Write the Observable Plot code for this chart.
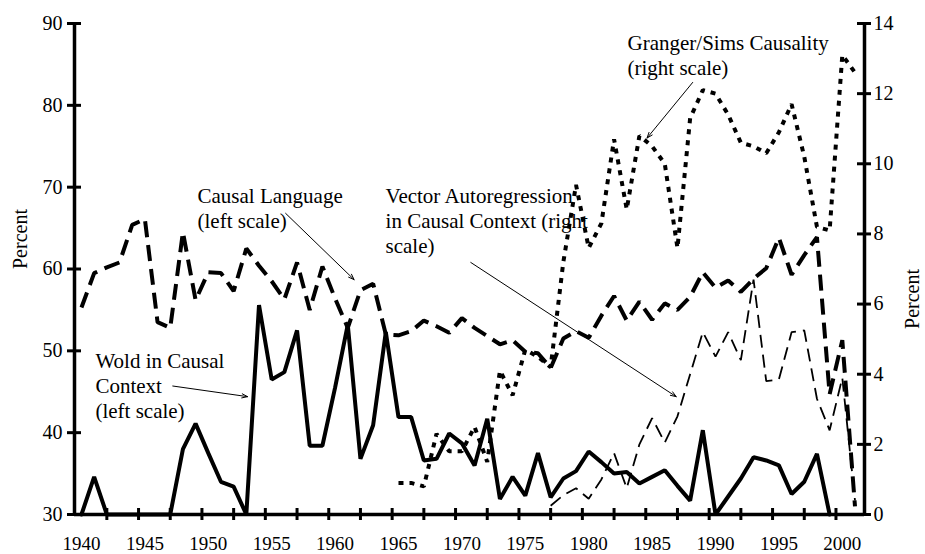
<!DOCTYPE html>
<html><head><meta charset="utf-8">
<script src="https://cdn.jsdelivr.net/npm/d3@7"></script>
<script src="https://cdn.jsdelivr.net/npm/@observablehq/plot@0.6"></script>
<style>body{margin:0;background:#fff} svg{display:block}</style>
</head><body><div id="chart"></div>
<script>
// ---- data (left scale, percent) ----
const causalYears = d3.range(1940, 2002);
const causalLanguage = [55.3,59.5,60.2,60.8,65.4,66.1,53.5,52.8,64.5,56.2,
  59.6,59.5,57.3,62.5,60.4,58.5,56.3,60.8,55.0,60.3,
  56.4,52.8,57.4,58.2,52.0,51.9,52.4,53.7,53.0,52.2,
  54.0,52.8,51.8,50.8,51.3,49.9,49.7,47.9,51.5,52.4,
  51.6,54.3,56.7,53.7,56.0,53.8,55.8,55.0,56.6,59.6,
  57.7,58.6,57.2,58.8,60.1,63.8,59.3,61.7,63.9,44.7,
  51.3,31.0];
const woldYears = d3.range(1940, 2000);
const wold = [30,34.6,30,30,30,30,30,30,38,41.1,
  37.5,34.0,33.4,30,55.6,46.5,47.4,52.5,38.4,38.4,
  45.5,53.2,36.8,40.9,52.3,41.9,41.9,36.6,36.8,39.9,
  38.7,36.0,41.7,31.9,34.6,32.3,37.5,32.1,34.4,35.3,
  37.7,36.4,35.0,35.2,33.8,34.6,35.4,33.5,31.7,40.3,
  30,32.2,34.4,37.0,36.6,36.0,32.5,34.0,37.4,30];
// ---- data (right scale, percent) ----
const grangerYears = d3.range(1965, 2002);
const granger = [0.9,0.9,0.8,2.3,1.8,1.8,2.5,1.5,4.1,3.4,
  4.7,4.5,4.2,7.2,9.4,7.6,8.3,10.7,8.7,10.8,
  10.5,10.0,7.6,11.3,12.1,12.0,11.4,10.6,10.5,10.3,
  10.9,11.7,10.2,8.2,8.1,13.1,12.6];
const varYears = d3.range(1977, 2002);
const varCausal = [0.25,0.55,0.75,0.45,1.0,1.75,0.75,2.0,2.75,2.05,
  2.8,4.0,5.2,4.5,5.2,4.4,6.7,3.8,3.85,5.2,
  5.25,3.3,2.4,3.9,0.4];

// ---- axes ----
const xLabels = d3.range(1940, 2001, 5);
const xTickMarks = d3.range(1942, 2001, 2.5);
const leftTicks = d3.range(30, 91, 10);
const rightTicks = d3.range(0, 15, 2);
const leftDomain = [30, 90];
const rightDomain = [0, 14];
const xDomain = [1939.45, 2001.75];

// ---- annotations ----
const labels = [
  {text: "Causal Language\n(left scale)", x: 1949.15, y: 70.2},
  {text: "Wold in Causal\nContext\n(left scale)", x: 1941.1, y: 50.1},
  {text: "Vector Autoregression\nin Causal Context (right\nscale)", x: 1963.98, y: 70.2},
  {text: "Granger/Sims Causality\n(right scale)", x: 1983.06, y: 88.9}
];
const arrows = [
  {x1: 1956.1, y1: 66.8, x2: 1961.5, y2: 58.7},
  {x1: 1947.2, y1: 45.7, x2: 1953.1, y2: 44.4},
  {x1: 1970.7, y1: 60.8, x2: 1986.9, y2: 44.4},
  {x1: 1988.2, y1: 82.8, x2: 1984.6, y2: 76.0}
];

const toLeft = v => leftDomain[0] + (v - rightDomain[0]) * (leftDomain[1] - leftDomain[0]) / (rightDomain[1] - rightDomain[0]);
const fromLeft = v => rightDomain[0] + (v - leftDomain[0]) * (rightDomain[1] - rightDomain[0]) / (leftDomain[1] - leftDomain[0]);

const causalData = causalYears.map((year, i) => ({year, v: causalLanguage[i]}));
const woldData = woldYears.map((year, i) => ({year, v: wold[i]}));
const grangerData = grangerYears.map((year, i) => ({year, v: toLeft(granger[i])}));
const varData = varYears.map((year, i) => ({year, v: toLeft(varCausal[i])}));

const chart = Plot.plot({
  width: 925,
  height: 554,
  marginLeft: 74,
  marginRight: 61,
  marginTop: 23,
  marginBottom: 40,
  x: {domain: xDomain},
  y: {domain: leftDomain},
  style: {fontFamily: "'Liberation Serif', serif", fontSize: "20px", color: "black", background: "white"},
  marks: [
    Plot.axisX({ticks: xLabels, tickSize: 0, tickPadding: 22, tickFormat: d => String(d), label: null, fontSize: 19}),
    Plot.axisY({anchor: "left", ticks: leftTicks, tickSize: 0, tickPadding: 12, label: null, tickFormat: d => String(d)}),
    Plot.axisY({anchor: "right", ticks: rightTicks.map(toLeft), tickSize: 0, tickPadding: 9, label: null,
      tickFormat: d => String(Math.round(fromLeft(d)))}),
    Plot.text(["Percent"], {frameAnchor: "left", dx: -54, rotate: -90, text: d => d, fontSize: 20}),
    Plot.text(["Percent"], {frameAnchor: "right", dx: 48, rotate: -90, text: d => d, fontSize: 20}),
    // lines
    Plot.line(varData, {x: "year", y: "v", stroke: "black", strokeWidth: 1.8, strokeDasharray: "13,7", strokeLinecap: "butt", strokeLinejoin: "miter"}),
    Plot.line(grangerData, {x: "year", y: "v", stroke: "black", strokeWidth: 4, strokeDasharray: "5,6", strokeLinecap: "butt", strokeLinejoin: "miter"}),
    Plot.line(causalData, {x: "year", y: "v", stroke: "black", strokeWidth: 4, strokeDasharray: "16,8", strokeLinecap: "butt", strokeLinejoin: "miter"}),
    Plot.line(woldData, {x: "year", y: "v", stroke: "black", strokeWidth: 4, strokeLinejoin: "miter"}),
    // axis lines & ticks
    Plot.ruleX([xDomain[0], xDomain[1]], {stroke: "black", strokeWidth: 3.5}),
    Plot.ruleY([leftDomain[0]], {stroke: "black", strokeWidth: 3.5}),
    Plot.ruleX(xTickMarks, {y1: leftDomain[0], y2: leftDomain[0], insetTop: -6, insetBottom: -6, stroke: "black", strokeWidth: 3}),
    Plot.ruleY(leftTicks, {x1: xDomain[0], x2: xDomain[0], insetLeft: -7, insetRight: -7, stroke: "black", strokeWidth: 3}),
    Plot.ruleY(rightTicks.map(toLeft), {x1: xDomain[1], x2: xDomain[1], insetLeft: -7, insetRight: -7, stroke: "black", strokeWidth: 3}),
    // annotations
    Plot.text(labels, {x: "x", y: "y", text: "text", textAnchor: "start", lineAnchor: "top", fontSize: 21, lineHeight: 1.19, fill: "black"}),
    Plot.arrow(arrows, {x1: "x1", y1: "y1", x2: "x2", y2: "y2", stroke: "black", strokeWidth: 1, headLength: 9, headAngle: 40})
  ]
});
document.getElementById("chart").appendChild(chart);
</script>
</body></html>
